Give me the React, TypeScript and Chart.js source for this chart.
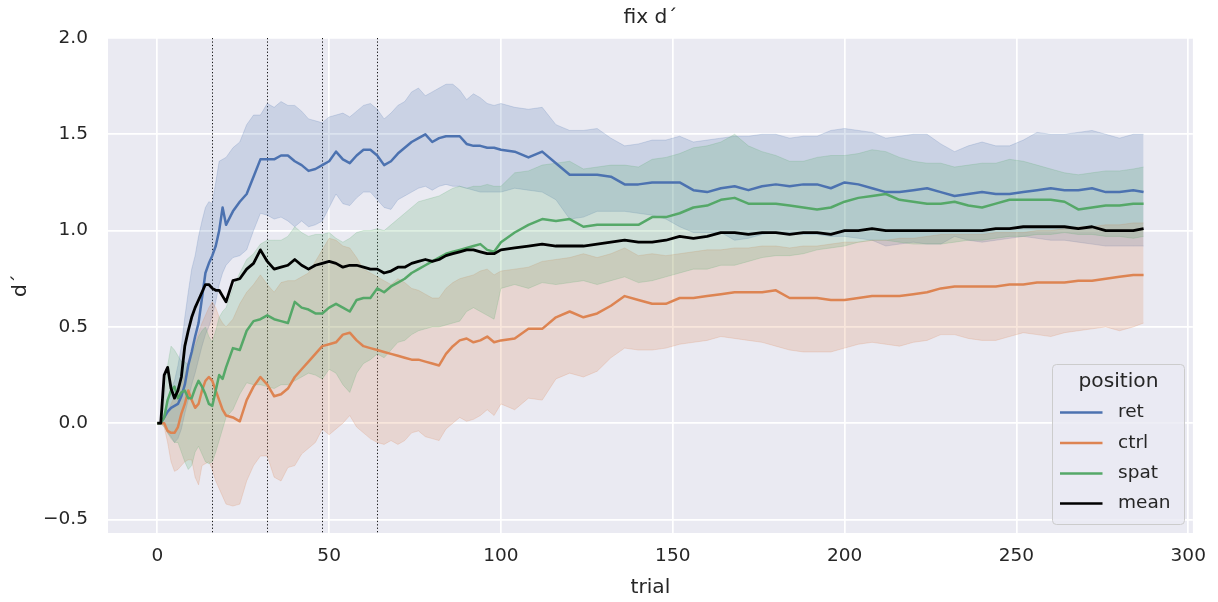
import { useEffect, useRef } from "react";
import { Chart, registerables } from "chart.js";

Chart.register(...registerables);

// trial index of every sample
const trials = [
  0, 1, 2, 3, 4, 5, 6, 7, 8, 9, 10, 11, 12, 13, 14, 15, 16, 17, 18, 19, 20,
  22, 24, 26, 28, 30, 32, 34, 36, 38, 40, 42, 44, 46, 48, 50, 52, 54, 56, 58, 60,
  62, 64, 66, 68, 70, 72, 74, 76, 78, 80, 82, 84, 86, 88, 90, 92, 94, 96, 98, 100,
  104, 108, 112, 116, 120, 124, 128, 132, 136, 140, 144, 148, 152, 156, 160, 164, 168, 172, 176, 180,
  184, 188, 192, 196, 200, 204, 208, 212, 216, 220, 224, 228, 232, 236, 240, 244, 248, 252, 256, 260,
  264, 268, 272, 276, 280, 284, 287,
];

// position = ret
const retMean = [
  0, 0, 0.03, 0.06, 0.08, 0.09, 0.1, 0.14, 0.2, 0.3, 0.37, 0.45, 0.52, 0.65, 0.78, 0.83, 0.87, 0.92, 1.0, 1.12, 1.03,
  1.1, 1.15, 1.19, 1.28, 1.37, 1.37, 1.37, 1.39, 1.39, 1.36, 1.34, 1.31, 1.32, 1.34, 1.36, 1.41, 1.37, 1.35, 1.39, 1.42,
  1.42, 1.39, 1.34, 1.36, 1.4, 1.43, 1.46, 1.48, 1.5, 1.46, 1.48, 1.49, 1.49, 1.49, 1.45, 1.44, 1.44, 1.43, 1.43, 1.42,
  1.41, 1.38, 1.41, 1.35, 1.29, 1.29, 1.29, 1.28, 1.24, 1.24, 1.25, 1.25, 1.25, 1.21, 1.2, 1.22, 1.23, 1.21, 1.23, 1.24,
  1.23, 1.24, 1.24, 1.22, 1.25, 1.24, 1.22, 1.2, 1.2, 1.21, 1.22, 1.2, 1.18, 1.19, 1.2, 1.19, 1.19, 1.2, 1.21, 1.22,
  1.21, 1.21, 1.22, 1.2, 1.2, 1.21, 1.2,
];
const retUpper = [
  0, 0, 0.05, 0.12, 0.18, 0.22, 0.3, 0.4, 0.55, 0.68, 0.8, 0.87, 0.97, 1.05, 1.12, 1.15, 1.14, 1.25, 1.36, 1.37, 1.38,
  1.43, 1.46, 1.55, 1.6, 1.6, 1.66, 1.64, 1.67, 1.65, 1.65, 1.62, 1.58, 1.57, 1.56, 1.59, 1.6, 1.61, 1.59, 1.62, 1.65,
  1.66, 1.63, 1.58, 1.61, 1.65, 1.67, 1.72, 1.74, 1.7, 1.72, 1.74, 1.76, 1.76, 1.73, 1.68, 1.71, 1.69, 1.66, 1.65, 1.66,
  1.64, 1.63, 1.64, 1.55, 1.52, 1.52, 1.53, 1.48, 1.44, 1.45, 1.47, 1.47, 1.49, 1.46, 1.47, 1.48, 1.49, 1.49, 1.5, 1.5,
  1.48, 1.49, 1.49, 1.52, 1.53, 1.52, 1.51, 1.48, 1.49, 1.5, 1.5, 1.45, 1.41, 1.44, 1.46, 1.44, 1.44, 1.47, 1.51, 1.5,
  1.5, 1.51, 1.52, 1.5, 1.48, 1.5, 1.5,
];
const retLower = [
  0, 0, 0, -0.05, -0.07, -0.1, -0.08, -0.03, 0.05, 0.12, 0.2, 0.26, 0.33, 0.4, 0.46, 0.5, 0.56, 0.63, 0.72, 0.78, 0.82,
  0.86, 0.87, 0.9, 1.0, 1.09, 1.08, 1.06, 1.07, 1.05, 1.02, 1.05, 1.02, 1.03, 1.05, 1.12, 1.19, 1.14, 1.13, 1.17, 1.2,
  1.2, 1.16, 1.12, 1.11, 1.16, 1.18, 1.2, 1.22, 1.23, 1.21, 1.23, 1.24, 1.23, 1.23, 1.22, 1.21, 1.2, 1.2, 1.2, 1.2,
  1.22, 1.21, 1.2, 1.16, 1.06, 1.07, 1.1, 1.1, 1.1, 1.09, 1.08, 1.06, 1.02, 0.99, 0.99, 0.99, 0.95, 0.96, 0.98, 0.99,
  0.99, 0.98, 0.98, 0.97, 0.97, 0.96, 0.95, 0.92, 0.93, 0.94, 0.93, 0.93, 0.97, 0.95, 0.94, 0.95, 0.96, 0.97, 0.96, 0.95,
  0.95, 0.94, 0.93, 0.92, 0.92, 0.92, 0.92,
];

// position = ctrl
const ctrlMean = [
  0, 0, 0, -0.04, -0.05, -0.05, -0.02, 0.05, 0.1, 0.17, 0.12, 0.08, 0.1, 0.17, 0.22, 0.24, 0.22, 0.17, 0.12, 0.07, 0.04,
  0.03, 0.01, 0.12, 0.19, 0.24, 0.2, 0.14, 0.15, 0.18, 0.24, 0.28, 0.32, 0.36, 0.4, 0.41, 0.42, 0.46, 0.47, 0.43, 0.4,
  0.39, 0.38, 0.37, 0.36, 0.35, 0.34, 0.33, 0.33, 0.32, 0.31, 0.3, 0.36, 0.4, 0.43, 0.44, 0.42, 0.43, 0.45, 0.42, 0.43,
  0.44, 0.49, 0.49, 0.55, 0.58, 0.55, 0.57, 0.61, 0.66, 0.64, 0.62, 0.62, 0.65, 0.65, 0.66, 0.67, 0.68, 0.68, 0.68, 0.69,
  0.65, 0.65, 0.65, 0.64, 0.64, 0.65, 0.66, 0.66, 0.66, 0.67, 0.68, 0.7, 0.71, 0.71, 0.71, 0.71, 0.72, 0.72, 0.73, 0.73,
  0.73, 0.74, 0.74, 0.75, 0.76, 0.77, 0.77,
];
const ctrlUpper = [
  0, 0, 0.02, 0.05, 0.1, 0.14, 0.18, 0.2, 0.25, 0.32, 0.38, 0.42, 0.47, 0.52, 0.56, 0.6, 0.63, 0.6, 0.55, 0.52, 0.5,
  0.54, 0.62, 0.68, 0.72, 0.77, 0.72, 0.68, 0.73, 0.74, 0.74, 0.76, 0.78, 0.84, 0.9, 0.96, 0.95, 0.92, 0.91, 0.86, 0.8,
  0.78, 0.76, 0.74, 0.72, 0.75, 0.73, 0.7, 0.69, 0.67, 0.65, 0.65, 0.7, 0.73, 0.75, 0.76, 0.77, 0.79, 0.8, 0.77, 0.79,
  0.8, 0.81, 0.84, 0.85, 0.86, 0.88, 0.86, 0.88, 0.91, 0.87, 0.88, 0.87, 0.88, 0.89, 0.9, 0.9, 0.91, 0.91, 0.92, 0.92,
  0.91, 0.92, 0.92, 0.93, 0.94, 0.94, 0.95, 0.95, 0.96, 0.96, 0.97, 0.98, 0.98, 0.98, 0.98, 0.99, 0.99, 0.99, 1.0, 1.0,
  1.01, 1.02, 1.02, 1.03, 1.03, 1.04, 1.04,
];
const ctrlLower = [
  0, 0, -0.02, -0.1, -0.2, -0.25, -0.24, -0.22, -0.2, -0.19, -0.19, -0.28, -0.32, -0.22, -0.21, -0.2, -0.24, -0.3, -0.34, -0.38, -0.42,
  -0.43, -0.42, -0.3, -0.22, -0.17, -0.17, -0.28, -0.3, -0.23, -0.22, -0.16, -0.13, -0.1, -0.03, -0.06, -0.03, 0.0, 0.04, -0.02, -0.05,
  -0.08, -0.1, -0.11, -0.09, -0.11, -0.09, -0.05, -0.04, -0.07, -0.08, -0.09, -0.03, 0.0, 0.03, 0.01, 0.02, 0.04, 0.07, 0.04, 0.1,
  0.07, 0.13, 0.12, 0.23, 0.26, 0.24, 0.27, 0.34, 0.39, 0.38, 0.38, 0.39, 0.41, 0.42, 0.43, 0.45, 0.44, 0.43, 0.42, 0.4,
  0.38, 0.37, 0.37, 0.37, 0.39, 0.41, 0.42, 0.41, 0.4, 0.42, 0.43, 0.46, 0.46, 0.44, 0.43, 0.43, 0.45, 0.47, 0.46, 0.45,
  0.47, 0.48, 0.49, 0.5, 0.48, 0.5, 0.52,
];

// position = spat
const spatMean = [
  0, 0, 0.03, 0.12, 0.17, 0.19, 0.13, 0.16, 0.17, 0.13, 0.13, 0.18, 0.22, 0.19, 0.15, 0.1, 0.09, 0.17, 0.25, 0.23, 0.29,
  0.39, 0.38, 0.48, 0.53, 0.54, 0.56, 0.54, 0.53, 0.52, 0.63, 0.6, 0.59, 0.57, 0.57, 0.6, 0.62, 0.6, 0.58, 0.64, 0.65,
  0.65, 0.7, 0.68, 0.71, 0.73, 0.75, 0.78, 0.8, 0.82, 0.84, 0.86, 0.88, 0.89, 0.9, 0.91, 0.92, 0.93, 0.9, 0.89, 0.94,
  0.99, 1.03, 1.06, 1.05, 1.06, 1.02, 1.03, 1.03, 1.03, 1.03, 1.07, 1.07, 1.09, 1.12, 1.13, 1.16, 1.17, 1.14, 1.14, 1.14,
  1.13, 1.12, 1.11, 1.12, 1.15, 1.17, 1.18, 1.19, 1.16, 1.15, 1.14, 1.14, 1.15, 1.13, 1.12, 1.14, 1.16, 1.16, 1.16, 1.16,
  1.15, 1.11, 1.12, 1.13, 1.13, 1.14, 1.14,
];
const spatUpper = [
  0, 0, 0.12, 0.3, 0.4, 0.38, 0.35, 0.32, 0.32, 0.3, 0.35, 0.4, 0.45, 0.48, 0.5, 0.45, 0.42, 0.48, 0.55, 0.58, 0.6,
  0.7, 0.78, 0.85, 0.88, 0.93, 0.95, 0.95, 0.95, 0.97, 1.02, 0.99, 0.97, 0.98, 0.98, 0.99, 0.96, 0.94, 0.96, 0.99, 1.0,
  1.0, 1.01, 1.0, 1.03, 1.06, 1.09, 1.12, 1.15, 1.16, 1.17, 1.18, 1.2, 1.22, 1.23, 1.22, 1.23, 1.23, 1.24, 1.23, 1.23,
  1.3, 1.31, 1.34, 1.35, 1.36, 1.32, 1.33, 1.34, 1.34, 1.33, 1.37, 1.38, 1.4, 1.43, 1.44, 1.46, 1.5, 1.44, 1.41, 1.39,
  1.36, 1.36, 1.38, 1.39, 1.39, 1.4, 1.42, 1.41, 1.38, 1.36, 1.35, 1.35, 1.33, 1.34, 1.35, 1.35, 1.37, 1.36, 1.34, 1.32,
  1.3, 1.29, 1.3, 1.31, 1.31, 1.32, 1.33,
];
const spatLower = [
  0, 0, -0.02, -0.05, -0.08, -0.1, -0.1, -0.15, -0.2, -0.24, -0.22, -0.15, -0.12, -0.16, -0.2, -0.21, -0.2, -0.15, -0.09, -0.03, 0.03,
  0.07, 0.15, 0.21, 0.2, 0.2, 0.19, 0.18, 0.2, 0.2, 0.22, 0.24, 0.26, 0.25, 0.23, 0.28, 0.26, 0.2, 0.16, 0.26, 0.31,
  0.33, 0.36, 0.34, 0.38, 0.42, 0.43, 0.46, 0.48, 0.49, 0.5, 0.5, 0.51, 0.52, 0.53, 0.58, 0.6, 0.58, 0.56, 0.54, 0.7,
  0.72, 0.7, 0.73, 0.72, 0.73, 0.74, 0.72, 0.74, 0.76, 0.73, 0.74, 0.76, 0.78, 0.8, 0.8, 0.82, 0.82, 0.84, 0.86, 0.87,
  0.87, 0.88, 0.9, 0.91, 0.92, 0.94, 0.95, 0.95, 0.94, 0.93, 0.93, 0.93, 0.94, 0.95, 0.95, 0.96, 0.97, 0.97, 0.98, 0.98,
  0.99, 0.98, 0.98, 0.97, 0.97, 0.96, 0.97,
];

// mean over all positions
const overallMean = [
  0, 0, 0.25, 0.29, 0.18, 0.13, 0.17, 0.24, 0.4, 0.48, 0.55, 0.6, 0.64, 0.68, 0.72, 0.72, 0.7, 0.69, 0.69, 0.66, 0.63,
  0.74, 0.75, 0.8, 0.83, 0.9, 0.84, 0.8, 0.81, 0.82, 0.85, 0.82, 0.8, 0.82, 0.83, 0.84, 0.83, 0.81, 0.82, 0.82, 0.81,
  0.8, 0.8, 0.78, 0.79, 0.81, 0.81, 0.83, 0.84, 0.85, 0.84, 0.85, 0.87, 0.88, 0.89, 0.9, 0.9, 0.89, 0.88, 0.88, 0.9,
  0.91, 0.92, 0.93, 0.92, 0.92, 0.92, 0.93, 0.94, 0.95, 0.94, 0.94, 0.95, 0.97, 0.96, 0.97, 0.99, 0.99, 0.98, 0.99, 0.99,
  0.98, 0.99, 0.99, 0.98, 1.0, 1.0, 1.01, 1.0, 1.0, 1.0, 1.0, 1.0, 1.0, 1.0, 1.0, 1.01, 1.01, 1.02, 1.02, 1.02,
  1.02, 1.01, 1.02, 1.0, 1.0, 1.0, 1.01,
];

// block boundaries (trial numbers)
const blockMarkers = [16, 32, 48, 64];

const xTicks = [0, 50, 100, 150, 200, 250, 300];
const yTicks = [-0.5, 0, 0.5, 1, 1.5, 2];
const yTickLabels = ["\u22120.5", "0.0", "0.5", "1.0", "1.5", "2.0"];

const legendTitle = "position";
const legendLabels = ["ret", "ctrl", "spat", "mean"];
const seriesColors = ["#4c72b0", "#dd8452", "#55a868", "#000000"];
const bandFills = ["rgba(76,114,176,0.2)", "rgba(221,132,82,0.2)", "rgba(85,168,104,0.2)"];

const FONT = '"DejaVu Sans", "Liberation Sans", sans-serif';
const TEXT = "#262626";
const TICK_SIZE = 18.5;
const LABEL_SIZE = 20.2;

const pts = (vals: number[]) => trials.map((t, i) => ({ x: t, y: vals[i] }));

const decorations = {
  id: "decorations",
  beforeDraw(chart: any) {
    const { ctx, chartArea: a } = chart;
    ctx.save();
    ctx.fillStyle = "#eaeaf2";
    ctx.fillRect(a.left, a.top, a.right - a.left, a.bottom - a.top);
    ctx.restore();
  },
  beforeDatasetsDraw(chart: any) {
    const { ctx, chartArea: a, scales } = chart;
    ctx.save();
    ctx.strokeStyle = "rgba(0,0,0,0.9)";
    ctx.lineWidth = 1;
    ctx.setLineDash([1.3, 2.1]);
    for (const m of blockMarkers) {
      const x = Math.round(scales.x.getPixelForValue(m)) + 0.5;
      ctx.beginPath();
      ctx.moveTo(x, a.top);
      ctx.lineTo(x, a.bottom);
      ctx.stroke();
    }
    ctx.restore();
  },
  afterDraw(chart: any) {
    const { ctx, chartArea: a } = chart;
    const cx = (a.left + a.right) / 2;
    const cy = (a.top + a.bottom) / 2;
    ctx.save();
    ctx.fillStyle = TEXT;
    ctx.textBaseline = "middle";
    ctx.textAlign = "center";
    ctx.font = `${LABEL_SIZE}px ${FONT}`;
    ctx.fillText("fix d\u00b4", cx, 18);
    ctx.fillText("trial", cx, 588);
    ctx.save();
    ctx.translate(21, cy);
    ctx.rotate(-Math.PI / 2);
    ctx.fillText("d\u00b4", 0, 0);
    ctx.restore();

    // legend
    const bx = 1052.5, by = 364.5, bw = 132, bh = 160, r = 4;
    ctx.beginPath();
    ctx.moveTo(bx + r, by);
    ctx.arcTo(bx + bw, by, bx + bw, by + bh, r);
    ctx.arcTo(bx + bw, by + bh, bx, by + bh, r);
    ctx.arcTo(bx, by + bh, bx, by, r);
    ctx.arcTo(bx, by, bx + bw, by, r);
    ctx.closePath();
    ctx.fillStyle = "rgba(234,234,242,0.8)";
    ctx.fill();
    ctx.strokeStyle = "#cccccc";
    ctx.lineWidth = 1;
    ctx.stroke();

    ctx.fillStyle = TEXT;
    ctx.font = `${LABEL_SIZE}px ${FONT}`;
    ctx.textAlign = "center";
    ctx.fillText(legendTitle, bx + bw / 2, 382);
    const rowY = [412.5, 443, 473.5, 503.5];
    ctx.font = `${TICK_SIZE}px ${FONT}`;
    ctx.textAlign = "left";
    legendLabels.forEach((lab, i) => {
      ctx.strokeStyle = seriesColors[i];
      ctx.lineWidth = 2.5;
      ctx.beginPath();
      ctx.moveTo(1060, rowY[i]);
      ctx.lineTo(1102.5, rowY[i]);
      ctx.stroke();
      ctx.fillStyle = TEXT;
      ctx.fillText(lab, 1118, rowY[i]);
    });
    ctx.restore();
  },
};

export default function App() {
  const canvasRef = useRef<HTMLCanvasElement | null>(null);

  useEffect(() => {
    const canvas = canvasRef.current;
    if (!canvas) return;

    const band = (upper: number[], lower: number[], i: number, order: number) => [
      {
        label: legendLabels[i] + " upper",
        data: pts(upper),
        borderColor: bandFills[i],
        backgroundColor: bandFills[i],
        borderWidth: 1,
        pointRadius: 0,
        fill: "+1",
        order,
      },
      {
        label: legendLabels[i] + " lower",
        data: pts(lower),
        borderColor: bandFills[i],
        backgroundColor: "rgba(0,0,0,0)",
        borderWidth: 1,
        pointRadius: 0,
        fill: false,
        order,
      },
    ];
    const line = (vals: number[], i: number, order: number, width = 2.5) => ({
      label: legendLabels[i],
      data: pts(vals),
      borderColor: seriesColors[i],
      backgroundColor: seriesColors[i],
      borderWidth: width,
      pointRadius: 0,
      fill: false,
      borderJoinStyle: "round" as const,
      order,
    });

    const chart = new Chart(canvas, {
      type: "line",
      data: {
        datasets: [
          ...band(retUpper, retLower, 0, 30),
          ...band(ctrlUpper, ctrlLower, 1, 20),
          ...band(spatUpper, spatLower, 2, 10),
          line(retMean, 0, 4),
          line(ctrlMean, 1, 3),
          line(spatMean, 2, 2),
          line(overallMean, 3, 1, 2.8),
        ] as any,
      },
      plugins: [decorations],
      options: {
        animation: false,
        responsive: true,
        maintainAspectRatio: false,
        devicePixelRatio: 1,
        events: [],
        elements: { line: { tension: 0 } },
        layout: { padding: { left: 0, right: 24, top: 38, bottom: 0 } },
        plugins: {
          legend: { display: false },
          title: { display: false },
          tooltip: { enabled: false },
          filler: { propagate: false },
        },
        scales: {
          x: {
            type: "linear",
            min: -14.35,
            max: 301.35,
            afterFit: (s: any) => {
              s.height = 69;
            },
            afterBuildTicks: (s: any) => {
              s.ticks = xTicks.map((v) => ({ value: v }));
            },
            grid: { color: "#ffffff", lineWidth: 1.7, drawTicks: false },
            border: { display: false },
            ticks: {
              color: TEXT,
              padding: 12,
              font: { family: FONT, size: TICK_SIZE },
              callback: (v: any) => String(v),
              maxRotation: 0,
            },
          },
          y: {
            type: "linear",
            min: -0.57,
            max: 2.0,
            afterFit: (s: any) => {
              s.width = 108;
            },
            afterBuildTicks: (s: any) => {
              s.ticks = yTicks.map((v) => ({ value: v }));
            },
            grid: { color: "#ffffff", lineWidth: 1.7, drawTicks: false },
            border: { display: false },
            ticks: {
              color: TEXT,
              padding: 20,
              font: { family: FONT, size: TICK_SIZE },
              callback: (v: any) => {
                const k = yTicks.findIndex((t) => Math.abs(t - Number(v)) < 1e-9);
                return k >= 0 ? yTickLabels[k] : "";
              },
            },
          },
        },
      },
    });
    return () => chart.destroy();
  }, []);

  return (
    <div style={{ position: "absolute", left: 0, top: 0, width: 1218, height: 602, background: "#ffffff" }}>
      <canvas ref={canvasRef} />
    </div>
  );
}
